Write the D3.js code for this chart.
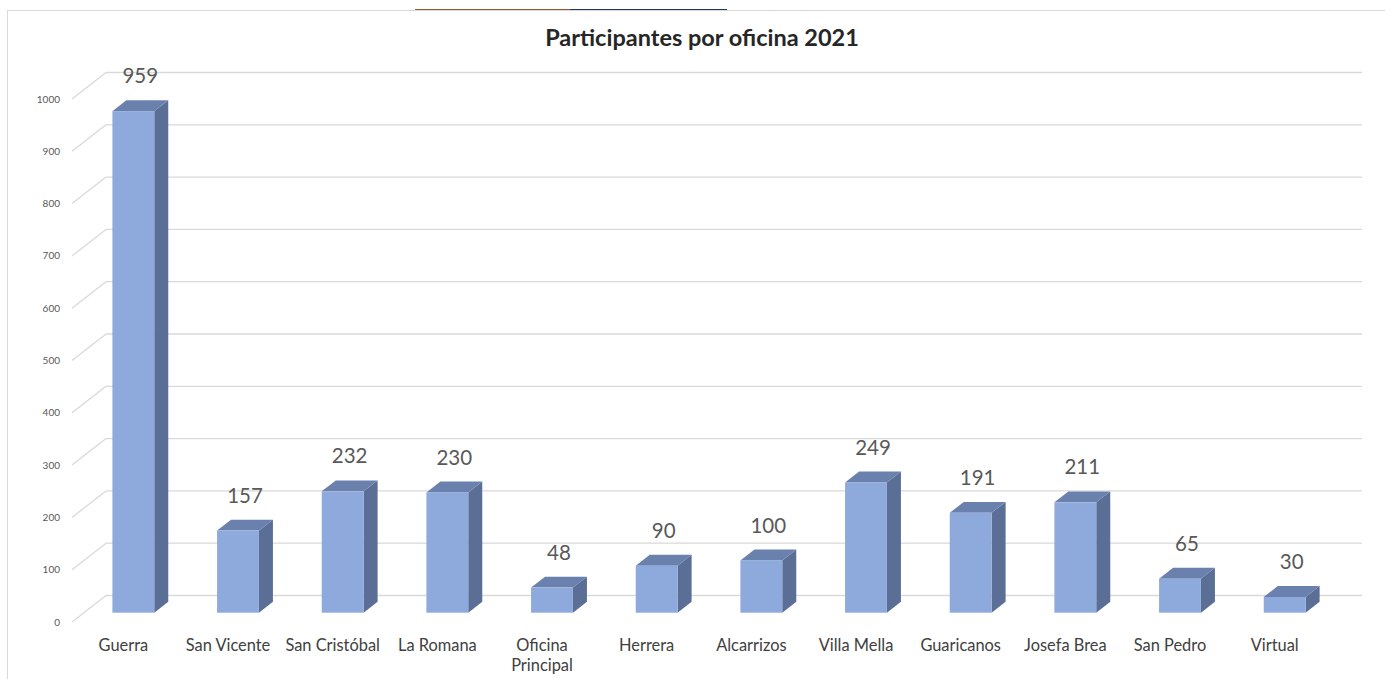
<!DOCTYPE html>
<html>
<head>
<meta charset="utf-8">
<script src="https://cdn.jsdelivr.net/npm/d3@7"></script>
<style>
  html, body { margin: 0; padding: 0; background: #fff; }
  svg { display: block; font-family: Lato, "Open Sans", sans-serif; }
</style>
</head>
<body>
<svg id="chart" width="1385" height="679"></svg>
<script>
const chartTitle = "Participantes por oficina 2021";
const oficinas = ["Guerra", "San Vicente", "San Cristóbal", "La Romana", "Oficina Principal",
    "Herrera", "Alcarrizos", "Villa Mella", "Guaricanos", "Josefa Brea", "San Pedro", "Virtual"];
const participantes = [959, 157, 232, 230, 48, 90, 100, 249, 191, 211, 65, 30];
const yTicks = [0, 100, 200, 300, 400, 500, 600, 700, 800, 900, 1000];

const svg = d3.select("#chart");

// page frame + the cut-off lines above it
svg.append("rect")
    .attr("x", 7.5).attr("y", 10.5)
    .attr("width", 1390).attr("height", 700)
    .attr("fill", "none").attr("stroke", "#d9d9d9");
svg.append("line").attr("x1", 415).attr("x2", 570).attr("y1", 9.5).attr("y2", 9.5)
    .attr("stroke", "#a0562c");
svg.append("line").attr("x1", 570).attr("x2", 727).attr("y1", 9.5).attr("y2", 9.5)
    .attr("stroke", "#1f3864");

// 3D geometry: front edge of the floor and the depth vector to the back wall
const front = { x0: 72, x1: 1328, y0: 622 };
const depth = { dx: 34, dy: -26.5 };
// bar block sits partway into the depth
const barOff = { x: 9, y: -9.3 };
const ddx = 14, ddy = -10.9;

const x = d3.scaleBand()
    .domain(oficinas)
    .range([front.x0, front.x1])
    .paddingInner(0.6)
    .paddingOuter(0.3);

const h = d3.scaleLinear().domain([0, 1000]).range([0, 523]);

// back wall gridlines
const grid = svg.append("g").attr("stroke", "#d9d9d9").attr("stroke-width", 1.3);
grid.selectAll("line.back")
    .data(yTicks)
    .join("line")
    .attr("class", "back")
    .attr("x1", front.x0 + depth.dx)
    .attr("x2", front.x1 + depth.dx)
    .attr("y1", d => front.y0 + depth.dy - h(d))
    .attr("y2", d => front.y0 + depth.dy - h(d));
// side wall slants
grid.selectAll("line.side")
    .data(yTicks)
    .join("line")
    .attr("class", "side")
    .attr("x1", front.x0)
    .attr("x2", front.x0 + depth.dx)
    .attr("y1", d => front.y0 - h(d))
    .attr("y2", d => front.y0 + depth.dy - h(d));

// y tick labels
svg.append("g")
    .selectAll("text")
    .data(yTicks)
    .join("text")
    .attr("x", 60)
    .attr("y", d => front.y0 - h(d) + 3.5)
    .attr("text-anchor", "end")
    .attr("font-size", 10)
    .attr("fill", "#595959")
    .text(d => d);

// bars
const bx = d => x(d) + barOff.x;
const bw = x.bandwidth();
const base = front.y0 + barOff.y;
const data = oficinas.map((o, i) => ({ name: o, value: participantes[i] }));

const bars = svg.append("g").selectAll("g").data(data).join("g");

bars.append("path") // side
    .attr("fill", "#5b6e95")
    .attr("d", d => {
        const xr = bx(d.name) + bw, yb = base, yt = yb - h(d.value);
        return `M${xr},${yb}L${xr + ddx},${yb + ddy}L${xr + ddx},${yt + ddy}L${xr},${yt}Z`;
    });
bars.append("path") // top
    .attr("fill", "#6a81ad")
    .attr("d", d => {
        const xl = bx(d.name), yt = base - h(d.value);
        return `M${xl},${yt}L${xl + bw},${yt}L${xl + bw + ddx},${yt + ddy}L${xl + ddx},${yt + ddy}Z`;
    });
bars.append("rect") // front
    .attr("fill", "#8eaadc")
    .attr("x", d => bx(d.name))
    .attr("y", d => base - h(d.value))
    .attr("width", bw)
    .attr("height", d => h(d.value));

// value labels
bars.append("text")
    .attr("x", d => bx(d.name) + bw / 2 + ddx / 2)
    .attr("y", d => base + ddy - h(d.value) - 17)
    .attr("text-anchor", "middle")
    .attr("font-size", 20.5)
    .attr("fill", "#595959")
    .text(d => d.value);

// category labels (Oficina Principal wraps like in Excel)
const cat = svg.append("g").selectAll("text").data(oficinas).join("text")
    .attr("text-anchor", "middle")
    .attr("font-size", 16.4)
    .attr("fill", "#404040")
    .attr("transform", d => `translate(${x(d) + bw / 2 - 1},651)`);
cat.each(function (d) {
    const lines = d === "Oficina Principal" ? ["Oficina", "Principal"] : [d];
    d3.select(this).selectAll("tspan").data(lines).join("tspan")
        .attr("x", 0)
        .attr("dy", (l, i) => i === 0 ? 0 : 19.5)
        .text(l => l);
});

// title
svg.append("text")
    .attr("x", 702)
    .attr("y", 46)
    .attr("text-anchor", "middle")
    .attr("font-size", 23.5)
    .attr("font-weight", "bold")
    .attr("fill", "#262626")
    .text(chartTitle);
</script>
</body>
</html>
